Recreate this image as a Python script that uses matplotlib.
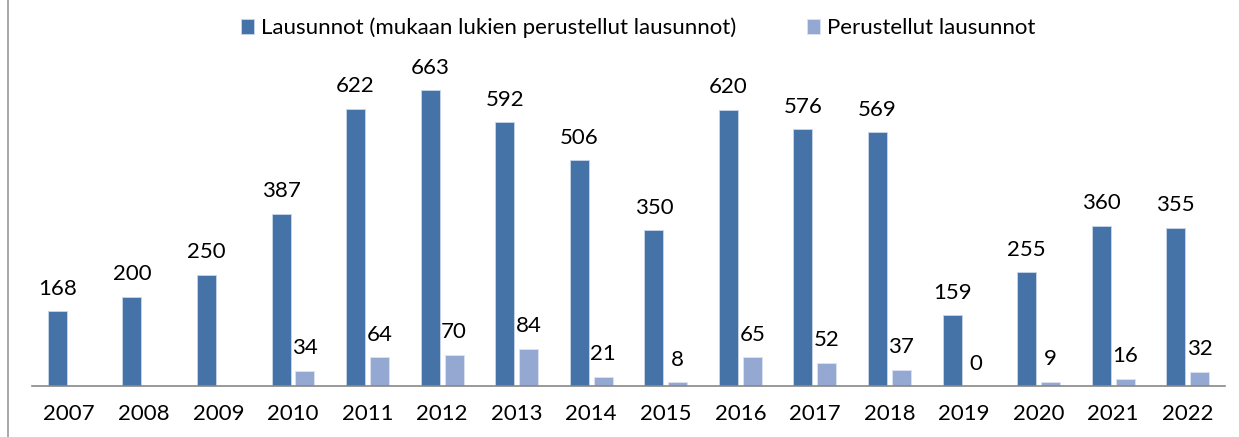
import numpy as np
import matplotlib
matplotlib.use('Agg')
import matplotlib.pyplot as plt
from matplotlib.lines import Line2D

plt.rcParams['font.family'] = ['Lato', 'DejaVu Sans']

years = ["2007", "2008", "2009", "2010", "2011", "2012", "2013", "2014",
         "2015", "2016", "2017", "2018", "2019", "2020", "2021", "2022"]
lausunnot = [168, 200, 250, 387, 622, 663, 592, 506,
             350, 620, 576, 569, 159, 255, 360, 355]
# no value for 2007-2009
perustellut = [None, None, None, 34, 64, 70, 84, 21,
               8, 65, 52, 37, 0, 9, 16, 32]

DARK = "#4572a7"
LIGHT = "#94a8d1"

fig = plt.figure(figsize=(12.39, 4.37), dpi=100)
ax = fig.add_axes([32/1239, 51/437, 1193/1239, 312/437])

x = np.arange(len(years))
w = 0.255
off = 0.16

b1 = ax.bar(x - off, lausunnot, w, color=DARK, edgecolor="#c9d6ea", linewidth=0.6,
            label="Lausunnot (mukaan lukien perustellut lausunnot)")
px = [xi + off for xi, v in zip(x, perustellut) if v is not None]
pv = [v for v in perustellut if v is not None]
b2 = ax.bar(px, pv, w, color=LIGHT, edgecolor="#dbe3f1", linewidth=0.6,
            label="Perustellut lausunnot")

for xi, v in zip(x - off, lausunnot):
    ax.annotate(str(v), (xi, v), xytext=(0, 9), textcoords="offset points",
                ha="center", va="bottom", fontsize=16)
for xi, v in zip(px, pv):
    ax.annotate(str(v), (xi, v), xytext=(0, 9), textcoords="offset points",
                ha="center", va="bottom", fontsize=16)

ax.set_xlim(-0.5, len(years) - 0.5)
ax.set_ylim(0, 700)
ax.set_xticks(x)
ax.set_xticklabels(years, fontsize=16)
ax.tick_params(axis="x", length=0, pad=13)
ax.set_yticks([])
for s in ["top", "right", "left"]:
    ax.spines[s].set_visible(False)
ax.spines["bottom"].set_color("#888888")
ax.spines["bottom"].set_linewidth(1.2)

fig.legend(handles=[b1, b2], loc="center", bbox_to_anchor=(0.515, 1 - 28/437),
           ncol=2, frameon=False, fontsize=16, handlelength=0.6, handleheight=0.6,
           handletextpad=0.3, columnspacing=3.2)

fig.add_artist(Line2D([8/1239, 8/1239], [0, 1], color="#999999", linewidth=1.2))

fig.savefig("out.png", dpi=100)
